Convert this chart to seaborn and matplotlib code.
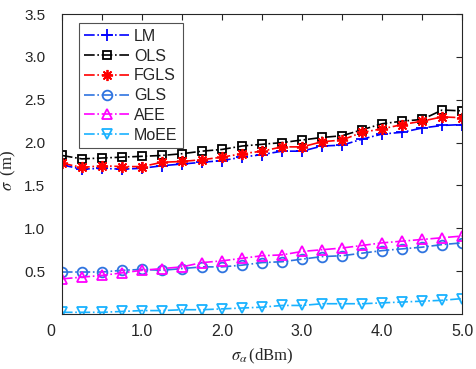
import numpy as np
import pandas as pd
import matplotlib
matplotlib.use("Agg")
import matplotlib.pyplot as plt
import matplotlib.transforms as mtransforms
import seaborn as sns

# ---- data ----
x_vals = [0.0, 0.25, 0.5, 0.75, 1.0, 1.25, 1.5, 1.75, 2.0, 2.25, 2.5,
          2.75, 3.0, 3.25, 3.5, 3.75, 4.0, 4.25, 4.5, 4.75, 5.0]
LM = [1.74, 1.69, 1.70, 1.69, 1.70, 1.73, 1.75, 1.77, 1.79, 1.83, 1.86,
      1.90, 1.90, 1.96, 1.97, 2.04, 2.10, 2.12, 2.17, 2.20, 2.21]
OLS = [1.85, 1.81, 1.82, 1.83, 1.84, 1.85, 1.87, 1.90, 1.92, 1.96, 1.98,
       2.00, 2.03, 2.06, 2.08, 2.15, 2.22, 2.25, 2.27, 2.38, 2.37]
FGLS = [1.76, 1.71, 1.73, 1.72, 1.72, 1.77, 1.78, 1.80, 1.83, 1.87, 1.90,
        1.95, 1.95, 2.01, 2.03, 2.12, 2.16, 2.21, 2.25, 2.30, 2.29]
GLS = [0.49, 0.49, 0.49, 0.51, 0.52, 0.51, 0.53, 0.55, 0.55, 0.57, 0.60,
       0.61, 0.64, 0.67, 0.68, 0.71, 0.74, 0.76, 0.78, 0.81, 0.83]
AEE = [0.41, 0.43, 0.45, 0.48, 0.51, 0.53, 0.55, 0.60, 0.62, 0.65, 0.68,
       0.69, 0.73, 0.75, 0.77, 0.80, 0.83, 0.85, 0.87, 0.89, 0.91]
MoEE = [0.02, 0.02, 0.02, 0.03, 0.04, 0.04, 0.05, 0.05, 0.06, 0.07, 0.08,
        0.10, 0.10, 0.12, 0.12, 0.12, 0.13, 0.14, 0.15, 0.16, 0.18]
series_names = ["LM", "OLS", "FGLS", "GLS", "AEE", "MoEE"]
x_tick_pos = [0, 1, 2, 3, 4, 5]
x_tick_labels = ["0", "1.0", "2.0", "3.0", "4.0", "5.0"]
y_ticks = [0.5, 1.0, 1.5, 2.0, 2.5, 3.0, 3.5]
y_tick_labels = ["0.5", "1.0", "1.5", "2.0", "2.5", "3.0", "3.5"]

series_values = [LM, OLS, FGLS, GLS, AEE, MoEE]

# ---- styles ----
colors = ["#0000FF", "#000000", "#FF0000", "#2F74E0", "#FF00FF", "#19B2FF"]
markers = ["+", "s", (8, 2, 0), "o", "^", "v"]
filled = [True, False, True, False, False, False]
msizes = [8, 6, 8, 7, 7, 7]

sns.set_style("white")
plt.rcParams["font.family"] = ["Liberation Sans", "DejaVu Sans"]
plt.rcParams["mathtext.fontset"] = "stix"

fig = plt.figure(figsize=(4.76, 3.69), dpi=100)
ax = fig.add_axes([0.130, 0.149, 0.841, 0.813])

for name, vals, c, m, f, ms in zip(series_names, series_values, colors,
                                   markers, filled, msizes):
    df = pd.DataFrame({"x": x_vals, "y": vals})
    sns.lineplot(data=df, x="x", y="y", ax=ax, color=c, marker=m,
                 linestyle="-.", linewidth=1.2, markersize=ms,
                 markeredgecolor=c, markerfacecolor=(c if f else "none"),
                 markeredgewidth=1.3, label=name)

ax.set_xlim(0, 5)
ax.set_ylim(0, 3.5)
xt = np.arange(0, 5.01, 0.5)
ax.set_xticks(xt)
ax.set_xticklabels([x_tick_labels[x_tick_pos.index(int(t))] if float(t).is_integer() else ""
                    for t in xt])
ax.set_yticks(y_ticks)
ax.set_yticklabels(y_tick_labels)
ax.tick_params(direction="in", length=4, width=0.8, top=True, right=True,
               labelsize=11.5, colors="#262626")
ax.tick_params(axis="x", pad=7)
ax.tick_params(axis="y", pad=12, labelsize=11)
for s in ax.spines.values():
    s.set_visible(True)
    s.set_color("#262626")
    s.set_linewidth(0.8)

# shift the "0" label slightly left like the reference
lab0 = ax.get_xticklabels()[0]
lab0.set_transform(lab0.get_transform() +
                   mtransforms.ScaledTranslation(-0.11, 0, fig.dpi_scale_trans))

ax.set_xlabel(r"$\sigma_\alpha\,$(dBm)", fontsize=12, labelpad=6)
ax.set_ylabel(r"$\sigma\;$ (m)", fontsize=12)
ax.xaxis.label.set_fontfamily(["Liberation Serif"])
ax.yaxis.label.set_fontfamily(["Liberation Serif"])
ax.yaxis.set_label_coords(-0.11, 0.48)

leg = ax.legend(loc="upper left", bbox_to_anchor=(0.03, 0.985), fontsize=11.5,
                frameon=True, fancybox=False, edgecolor="#262626",
                handlelength=2.8, borderpad=0.35, labelspacing=0.3,
                handletextpad=0.3, borderaxespad=0.3)
leg.get_frame().set_linewidth(0.8)

fig.savefig("out.png", dpi=100)
